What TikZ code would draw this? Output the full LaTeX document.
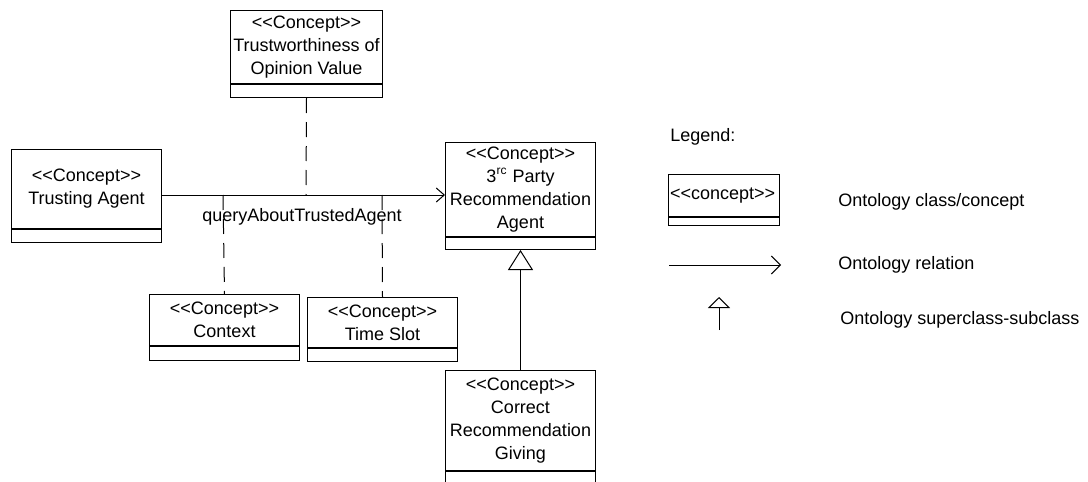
\documentclass[tikz,border=0pt]{standalone}
\usepackage{fontspec}
\setmainfont{Liberation Sans}
\usetikzlibrary{arrows.meta}

\tikzset{
  concept/.style={draw, line width=0.5pt, anchor=north west, inner sep=0pt,
    minimum width=75pt, align=center,
    font=\fontsize{9}{11.5}\selectfont},
  compart/.style={draw, line width=0.5pt, anchor=north, inner sep=0pt,
    minimum width=75pt},
  txt/.style={inner sep=0pt, font=\fontsize{9}{11.5}\selectfont},
  rel/.style={line width=0.5pt, -{Straight Barb[length=4pt,width=7pt]}},
  sub/.style={line width=0.5pt, -{Triangle[open,length=10pt,width=12.5pt]}},
  assoc/.style={line width=0.5pt, dash pattern=on 7.5pt off 4.5pt}
}

\begin{document}
\begin{tikzpicture}[x=0.5pt, y=-0.5pt]
  \useasboundingbox (0,0) rectangle (1088,482);

  % concepts
  \node[concept, minimum width=76pt, minimum height=36.5pt] (trust) at (230,10) {{<}{<}Concept{>}{>}\\Trustworthiness of\\Opinion Value};
  \node[compart, minimum width=76pt, minimum height=6.5pt] (trustc) at (trust.south) {};

  \node[concept, minimum height=39.5pt] (agent) at (11,149) {{<}{<}Concept{>}{>}\\Trusting Agent};
  \node[compart, minimum height=6.5pt] (agentc) at (agent.south) {};

  \node[concept, minimum height=25.5pt] (context) at (149,294) {{<}{<}Concept{>}{>}\\Context};
  \node[compart, minimum height=7pt] (contextc) at (context.south) {};

  \node[concept, minimum height=25pt] (slot) at (307,297) {{<}{<}Concept{>}{>}\\Time Slot};
  \node[compart, minimum height=6.5pt] (slotc) at (slot.south) {};

  \node[concept, minimum height=47pt] (party) at (445,142) {{<}{<}Concept{>}{>}\\3\textsuperscript{rc} Party\\Recommendation\\Agent};
  \node[compart, minimum height=6pt] (partyc) at (party.south) {};

  \node[concept, minimum height=50pt] (correct) at (445,370) {{<}{<}Concept{>}{>}\\Correct\\Recommendation\\Giving};
  \node[compart, minimum height=5.5pt] (correctc) at (correct.south) {};

  % relation
  \coordinate (jctx) at (223,195);
  \coordinate (jtrust) at (306,195);
  \coordinate (jslot) at (382,195);
  \node[txt] (query) at (302,217) {queryAboutTrustedAgent};
  \draw[rel] (agent.east |- jtrust) -- (party.west |- jtrust);
  \draw[assoc] (trustc.south) -- (jtrust);
  \draw[assoc] (jctx) -- (context.north);
  \draw[assoc] (jslot) -- (slot.north);

  \draw[sub] (correct.north) -- (partyc.south);

  % legend
  \node[txt, anchor=west] (legend) at (670,137) {Legend:};
  \node[concept, minimum width=55.5pt, text width=54pt, align=left, minimum height=21pt] (lbox) at (668,174) {{<}{<}concept{>}{>}};
  \node[compart, minimum width=55.5pt, minimum height=4pt] (lboxc) at (lbox.south) {};
  \node[txt, anchor=west] (lclass) at (838,202) {Ontology class/concept};

  \coordinate (relA) at (669,265);
  \coordinate (relB) at (781,265);
  \draw[line width=0.5pt, -{Straight Barb[length=4.5pt,width=9pt]}] (relA) -- (relB);
  \node[txt, anchor=west] (lrel) at (838,265) {Ontology relation};

  \coordinate (subA) at (719,330);
  \coordinate (subB) at (719,297);
  \draw[line width=0.5pt, -{Triangle[open,length=5.5pt,width=11pt]}] (subA) -- (subB);
  \node[txt, anchor=west] (lsub) at (840,320) {Ontology superclass-subclass};
\end{tikzpicture}
\end{document}
